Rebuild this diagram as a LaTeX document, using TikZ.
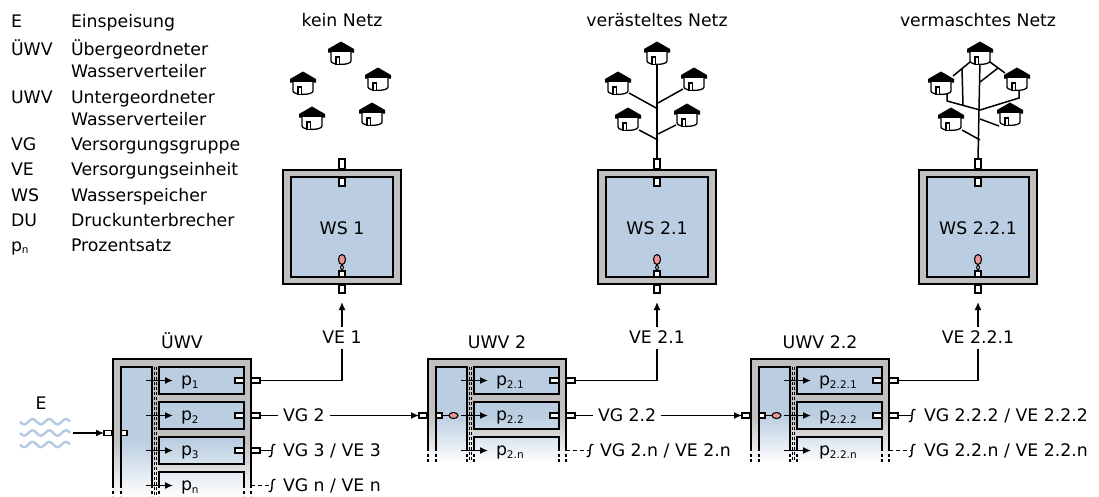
\documentclass[tikz,border=0pt]{standalone}
\usepackage{fontspec}
\setmainfont{DejaVu Sans}
\usetikzlibrary{arrows.meta,fadings}

\definecolor{wallgray}{RGB}{192,192,192}
\definecolor{waterblue}{RGB}{187,206,225}
\definecolor{valvered}{RGB}{238,150,150}
\definecolor{wavecol}{RGB}{180,201,226}
\newcommand\lblfont{\fontsize{17.3}{20}\selectfont}
\newcommand\sub[1]{\raisebox{-2.5pt}{\fontsize{10.5}{12}\selectfont #1}}

\tikzset{
  lbl/.style={font=\lblfont, inner sep=0pt, outer sep=0pt, text height=12.5pt, text depth=0pt},
  txt/.style={font=\lblfont, inner sep=0pt, outer sep=0pt},
  wall/.style={fill=wallgray},
  water/.style={fill=waterblue},
  border/.style={line width=1.8pt},
  pipe/.style={line width=1.4pt},
  net/.style={line width=1.5pt},
  stub/.style={draw, fill=white, line width=1.1pt},
  valve/.style={draw, fill=valvered, line width=1.1pt},
  arr/.style={-{Latex[length=8pt,width=7pt]}, line width=1.4pt},
  cont/.style={line width=1.4pt, dash pattern=on 3pt off 2.5pt},
  sep/.style={line width=0.8pt, dash pattern=on 3pt off 2pt},
  open/.style={line width=1.4pt, dash pattern=on 4pt off 3pt},
  wave/.style={wavecol, line width=2.4pt},
}

% hut: #1,#2 = centre of the eaves line
\newcommand\hut[2]{%
  \fill (#1-13,#2+0.5) -- (#1-13,#2-3) -- (#1,#2-10.5) -- (#1+13,#2-3) -- (#1+13,#2+0.5) -- cycle;
  \draw[fill=white, line width=1.3pt] (#1-10,#2) -- (#1-10,#2+9)
     .. controls (#1-10,#2+13.5) and (#1+10,#2+13.5) .. (#1+10,#2+9) -- (#1+10,#2);
  \draw[fill=white, line width=1.1pt] (#1-5,#2+12.3) rectangle (#1-1.5,#2+5);
}

% water tank: #1 name, #2 centre x, #3 label
\newcommand\tank[3]{%
  \fill[wall] (#2-59,170) rectangle (#2+59,284);
  \fill[water] (#2-51,177) rectangle (#2+51,277);
  \draw[border] (#2-59,170) rectangle (#2+59,284);
  \draw[border] (#2-51,177) rectangle (#2+51,277);
  \node[lbl, anchor=base] (#1) at (#2,234) {#3};
  \draw[stub] (#2-3,159) rectangle (#2+3,169);
  \draw[stub] (#2-3,178) rectangle (#2+3,186);
  \draw[line width=1pt] (#2,264) -- (#2-1.5,267.5) -- (#2,271) -- (#2+1.5,267.5) -- cycle;
  \draw[valve] (#2,259.5) ellipse [x radius=3.5pt, y radius=5pt];
  \draw[stub] (#2-3,271) rectangle (#2+3,277);
  \draw[stub] (#2-3,285) rectangle (#2+3,293);
  \coordinate (#1-top) at (#2,159);
  \coordinate (#1-inlet) at (#2,302);
}

% distributor: #1 name, #2 left x, #3 complete rows, #4 end of solid walls,
% #5 end of dashed walls, #6 top of the fade
\newcommand\distrib[6]{%
  \fill[wall] (#2,359) rectangle (#2+138,#5);
  \fill[water] (#2+8,367) rectangle (#2+39,#5);
  \foreach \rw in {1,...,#3} {\fill[water] (#2+46,{332+35*\rw}) rectangle (#2+131,{359+35*\rw});}
  \fill[water] (#2+46,{367+35*#3}) rectangle (#2+131,#5);
  \fill[white, path fading=north] (#2-1,#6) rectangle (#2+139,#5+0.5);
  \draw[border] (#2,#4) -- (#2,359) -- (#2+138,359) -- (#2+138,#4);
  \draw[border] (#2+8,#4) -- (#2+8,367) -- (#2+39,367) -- (#2+39,#4);
  \foreach \rw in {1,...,#3} {\draw[border] (#2+46,{332+35*\rw}) rectangle (#2+131,{359+35*\rw});}
  \draw[border] (#2+46,#4) -- (#2+46,{367+35*#3}) -- (#2+131,{367+35*#3}) -- (#2+131,#4);
  \foreach \dx in {0,8,39,46,131,138} {\draw[cont] (#2+\dx,#4) -- (#2+\dx,#5);}
  \draw[sep] (#2+41.5,367) -- (#2+41.5,#5);
  \draw[sep] (#2+43.5,367) -- (#2+43.5,#5);
  \foreach \rw in {1,...,#3} {
    \draw[stub] (#2+122,{343+35*\rw}) rectangle (#2+131,{348+35*\rw});
    \draw[stub] (#2+138,{343+35*\rw}) rectangle (#2+147,{348+35*\rw});
    \coordinate (#1-out\rw) at (#2+147,{345.5+35*\rw});
  }
  \coordinate (#1-open) at (#2+138,{380.5+35*#3});
  \foreach \rw in {0,...,#3} {
    \coordinate (#1-from\rw) at (#2+33,{380.5+35*\rw});
    \coordinate (#1-to\rw) at (#2+60,{380.5+35*\rw});
    \draw[arr] (#1-from\rw) -- (#1-to\rw);
  }
}

% inlet through the outer wall: #1 name, #2 wall x, #3 y, #4 with float valve (1/0)
\newcommand\inlet[4]{%
  \draw[stub] (#2-9,#3-2.5) rectangle (#2-1,#3+2.5);
  \draw[stub] (#2+8,#3-2.5) rectangle (#2+14,#3+2.5);
  \coordinate (#1-inlet) at (#2-9,#3);
  \ifnum#4=1
    \draw[line width=1.1pt] (#2+14,#3) -- (#2+21,#3);
    \draw[valve] (#2+25.5,#3) ellipse [x radius=4.5pt, y radius=3pt];
  \fi
}

% break mark at the end of an open line
\newcommand\brk[2]{%
  \draw[pipe] (#1-3.5,#2+6) .. controls (#1-0.5,#2+7) and (#1,#2+4) .. (#1,#2)
     .. controls (#1,#2-4) and (#1+0.5,#2-7) .. (#1+3.5,#2-6);
}

\begin{document}
\begin{tikzpicture}[x=1pt,y=-1pt]
\useasboundingbox (0,0) rectangle (1099,496);

% ---------- legend ----------
\begin{scope}[every node/.style={txt, anchor=base west}]
  \node (k1) at (11,27)  {E};   \node (d1) at (71,27)  {Einspeisung};
  \node (k2) at (11,55)  {ÜWV}; \node (d2) at (71,55)  {Übergeordneter};
                                \node (d2b) at (71,77) {Wasserverteiler};
  \node (k3) at (11,103) {UWV}; \node (d3) at (71,103) {Untergeordneter};
                                \node (d3b) at (71,125) {Wasserverteiler};
  \node (k4) at (11,150) {VG};  \node (d4) at (71,150) {Versorgungsgruppe};
  \node (k5) at (11,175) {VE};  \node (d5) at (71,175) {Versorgungseinheit};
  \node (k6) at (11,201) {WS};  \node (d6) at (71,201) {Wasserspeicher};
  \node (k7) at (11,226) {DU};  \node (d7) at (71,226) {Druckunterbrecher};
  \node (k8) at (11,251) {p\sub{n}}; \node (d8) at (71,251) {Prozentsatz};
\end{scope}

% ---------- settlements ----------
\node[txt, anchor=base] (n1) at (342,26) {kein Netz};
\node[txt, anchor=base] (n2) at (657,26) {verästeltes Netz};
\node[txt, anchor=base] (n3) at (978,26) {vermaschtes Netz};

\tank{ws1}{342}{WS 1}
\tank{ws2}{657}{WS 2.1}
\tank{ws3}{978}{WS 2.2.1}

% no network
\hut{341}{52} \hut{303}{82} \hut{378}{78} \hut{312}{117} \hut{372}{113}

% branched network
\draw[net] (657,60) -- (ws2-top);
\draw[net] (629,93) -- (658,109);
\draw[net] (683,89) -- (658,103);
\draw[net] (639,130) -- (658,140);
\draw[net] (676,125) -- (658,134);
\hut{657}{52} \hut{618}{82} \hut{694}{78} \hut{628}{118} \hut{687}{114}

% meshed network
\draw[net] (980,60) -- (ws3-top);
\draw[net] (970,62) -- (953,76);
\draw[net] (990,62) -- (1005,73);
\draw[net] (962,69) -- (963,105);
\draw[net] (980,82) -- (998,68);
\draw[net] (947,93) -- (947,101) -- (980,110);
\draw[net] (1019,89) -- (1019,98) -- (980,110);
\draw[net] (962,130) -- (980,140);
\draw[net] (980,119) -- (999,126);
\hut{980}{52} \hut{941}{82} \hut{1017}{78} \hut{951}{118} \hut{1010}{113}

% ---------- feed ----------
\node[txt, anchor=base] (e) at (41,409) {E};
\foreach \wy in {421.7,433,444.5}
  \draw[wave] plot[domain=20:70, samples=80, smooth] (\x, {\wy + 2.6*sin((\x-20)*21.56)});
\coordinate (feed) at (73,433);

% ---------- distributors ----------
\distrib{u}{113}{3}{485}{496}{440}
\distrib{v}{428}{2}{448}{462}{416}
\distrib{w}{751}{2}{448}{462}{416}

\inlet{u}{113}{433}{0}
\inlet{v}{428}{415.5}{1}
\inlet{w}{751}{415.5}{1}

\node[txt, anchor=base] (tu) at (182,348) {ÜWV};
\node[txt, anchor=base] (tv) at (497,348) {UWV 2};
\node[txt, anchor=base] (tw) at (820,348) {UWV 2.2};

% shares
\begin{scope}[every node/.style={txt, anchor=base west}]
  \node (pu1) at (181,385.5) {p\sub{1}};
  \node (pu2) at (181,420.5) {p\sub{2}};
  \node (pu3) at (181,455.5) {p\sub{3}};
  \node (pu4) at (181,490.5) {p\sub{n}};
  \node (pv1) at (496,385.5) {p\sub{2.1}};
  \node (pv2) at (496,420.5) {p\sub{2.2}};
  \node (pv3) at (496,455.5) {p\sub{2.n}};
  \node (pw1) at (819,385.5) {p\sub{2.2.1}};
  \node (pw2) at (819,420.5) {p\sub{2.2.2}};
  \node (pw3) at (819,455.5) {p\sub{2.2.n}};
\end{scope}

\draw[arr] (feed) -- (u-inlet);

% ---------- supply units ----------
\node[lbl, anchor=base] (ve1) at (342,343) {VE 1};
\node[lbl, anchor=base] (ve2) at (657,343) {VE 2.1};
\node[lbl, anchor=base] (ve3) at (978,343) {VE 2.2.1};
\draw[pipe] (u-out1) -| ([yshift=-6pt]ve1.south);
\draw[pipe] (v-out1) -| ([yshift=-6pt]ve2.south);
\draw[pipe] (w-out1) -| ([yshift=-6pt]ve3.south);
\draw[arr] ([yshift=4pt]ve1.north) -- (ws1-inlet);
\draw[arr] ([yshift=4pt]ve2.north) -- (ws2-inlet);
\draw[arr] ([yshift=4pt]ve3.north) -- (ws3-inlet);

% ---------- supply groups ----------
\node[lbl, anchor=west] (vg2) at (283,415.5) {VG 2};
\draw[pipe] (u-out2) -- ([xshift=-5pt]vg2.west);
\draw[arr] ([xshift=5pt]vg2.east) -- (v-inlet);

\node[lbl, anchor=west] (vg22) at (598,415.5) {VG 2.2};
\draw[pipe] (v-out2) -- ([xshift=-5pt]vg22.west);
\draw[arr] ([xshift=5pt]vg22.east) -- (w-inlet);

% open ends
\coordinate (b3) at (272,450.5);
\draw[pipe] (u-out3) -- (b3); \brk{272}{450.5}
\node[lbl, anchor=west] (vg3) at (283,450.5) {VG 3 / VE 3};

\coordinate (bn) at (272,485.5);
\draw[open] (251,485.5) -- (bn); \brk{272}{485.5}
\node[lbl, anchor=west] (vgn) at (283,485.5) {VG n / VE n};

\coordinate (b2n) at (590,450.5);
\draw[open] (v-open) -- (b2n); \brk{590}{450.5}
\node[lbl, anchor=west] (vg2n) at (600,450.5) {VG 2.n / VE 2.n};

\coordinate (b222) at (912,415.5);
\draw[pipe] (w-out2) -- (b222); \brk{912}{415.5}
\node[lbl, anchor=west] (vg222) at (924,415.5) {VG 2.2.2 / VE 2.2.2};

\coordinate (b22n) at (912,450.5);
\draw[open] (w-open) -- (b22n); \brk{912}{450.5}
\node[lbl, anchor=west] (vg22n) at (924,450.5) {VG 2.2.n / VE 2.2.n};

\end{tikzpicture}
\end{document}
